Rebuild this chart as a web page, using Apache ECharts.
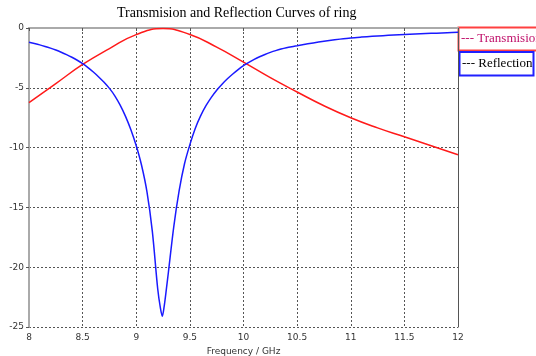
<!DOCTYPE html>
<html>
<head>
<meta charset="utf-8">
<script src="https://cdn.jsdelivr.net/npm/echarts@6/dist/echarts.min.js"></script>
<style>
  html, body { margin: 0; padding: 0; background: #fff; }
  #chart { width: 536px; height: 356px; }
</style>
</head>
<body>
<div id="chart"></div>
<script>
// values
const transFreq = [8.0, 8.25, 8.5, 8.75, 9.0, 9.25, 9.5, 9.75, 10.0, 10.25, 10.5, 10.75, 11.0, 11.25, 11.5, 11.75, 12.0];
const transmission = [-6.24, -4.65, -3.05, -1.72, -0.55, -0.05, -0.55, -1.6, -2.85, -4.15, -5.35, -6.5, -7.5, -8.35, -9.1, -9.85, -10.6];

const reflFreq = [
    8.0, 8.05, 8.1, 8.15, 8.2, 8.25, 8.3, 8.35, 8.4, 8.45,
    8.5, 8.55, 8.6, 8.65, 8.7, 8.75, 8.8, 8.85, 8.9, 8.95,
    9.0, 9.05, 9.1, 9.15, 9.2, 9.225, 9.243, 9.26, 9.28, 9.3,
    9.35, 9.4, 9.45, 9.5, 9.55, 9.6, 9.65, 9.7, 9.75, 9.8,
    9.85, 9.9, 9.95, 10.0, 10.05, 10.1, 10.15, 10.2, 10.25, 10.3,
    10.35, 10.4, 10.45, 10.5, 10.6, 10.7, 10.8, 10.9, 11.0, 11.1,
    11.2, 11.3, 11.4, 11.5, 11.6, 11.7, 11.8, 11.9, 12.0,
];
const reflection = [
    -1.2, -1.3, -1.41, -1.54, -1.685, -1.845, -2.025, -2.225, -2.445, -2.695,
    -2.98, -3.31, -3.68, -4.09, -4.54, -5.05, -5.67, -6.45, -7.39, -8.51,
    -9.85, -11.5, -13.7, -17.0, -21.8, -23.4, -24.1, -23.3, -21.9, -20.4,
    -16.6, -13.6, -11.35, -9.75, -8.4, -7.35, -6.5, -5.8, -5.2, -4.7,
    -4.25, -3.85, -3.48, -3.15, -2.87, -2.62, -2.4, -2.21, -2.04, -1.89,
    -1.76, -1.65, -1.56, -1.48, -1.32, -1.175, -1.045, -0.93, -0.83, -0.76,
    -0.7, -0.64, -0.59, -0.545, -0.5, -0.465, -0.43, -0.395, -0.36,
];

const xTicks = [8, 8.5, 9, 9.5, 10, 10.5, 11, 11.5, 12];
const yTicks = [-25, -20, -15, -10, -5, 0];

const chart = echarts.init(document.getElementById("chart"));

const labelFont = { fontFamily: "DejaVu Sans", fontSize: 9, color: "#333" };
const dotted = { color: "#555", type: [2, 2], width: 1 };

chart.setOption({
    animation: false,
    grid: { left: 29, right: 78, top: 28, bottom: 29, containLabel: false, outerBoundsMode: "none" },
    graphic: [
        {
            type: "text", left: 117, top: 6,
            style: { text: "Transmision and Reflection Curves of ring", font: "14px 'Liberation Serif'", fill: "#000" },
        },
        {
            type: "rect", shape: { x: 458.5, y: 27.5, width: 90, height: 23 },
            style: { fill: "#fff", stroke: "#ff4040", lineWidth: 2 },
        },
        {
            type: "text", left: 461, top: 32,
            style: { text: "--- Transmision", font: "13px 'Liberation Serif'", fill: "#c0106a" },
        },
        {
            type: "rect", shape: { x: 459.5, y: 52, width: 74, height: 23.5 },
            style: { fill: "#fff", stroke: "#2020ff", lineWidth: 2 },
        },
        {
            type: "text", left: 462, top: 57,
            style: { text: "--- Reflection", font: "13px 'Liberation Serif'", fill: "#000" },
        },
    ],
    xAxis: [
        {
            type: "value", min: 8, max: 12, interval: 0.5,
            name: "Frequency / GHz", nameLocation: "middle", nameGap: 20,
            nameTextStyle: labelFont,
            axisLine: { lineStyle: { color: "#555", width: 1 } },
            axisTick: { show: true, length: 3, lineStyle: { color: "#555" } },
            axisLabel: Object.assign({ margin: 6, formatter: v => (xTicks.includes(v) ? String(v) : "") }, labelFont),
            splitLine: { show: true, lineStyle: dotted },
        },
        {
            type: "value", position: "top", min: 8, max: 12,
            axisLine: { show: true, lineStyle: { color: "#aaa", width: 2 } },
            axisTick: { show: false }, axisLabel: { show: false }, splitLine: { show: false },
        },
    ],
    yAxis: [
        {
            type: "value", min: -25, max: 0, interval: 5,
            axisLine: { show: true, lineStyle: { color: "#aaa", width: 2 } },
            axisTick: { show: true, length: 3, lineStyle: { color: "#555" } },
            axisLabel: Object.assign({ margin: 5, formatter: v => (yTicks.includes(v) ? String(v) : "") }, labelFont),
            splitLine: { show: true, lineStyle: dotted },
        },
        {
            type: "value", position: "right", min: -25, max: 0,
            axisLine: { show: true, lineStyle: { color: "#555", width: 1 } },
            axisTick: { show: false }, axisLabel: { show: false }, splitLine: { show: false },
        },
    ],
    series: [
        {
            name: "Transmision", type: "line", smooth: true, showSymbol: false,
            lineStyle: { color: "#ff1a1a", width: 1.5 },
            data: transFreq.map((f, i) => [f, transmission[i]]),
        },
        {
            name: "Reflection", type: "line", smooth: 0.3, showSymbol: false,
            lineStyle: { color: "#1a1aff", width: 1.5 },
            data: reflFreq.map((f, i) => [f, reflection[i]]),
        },
    ],
});
</script>
</body>
</html>
